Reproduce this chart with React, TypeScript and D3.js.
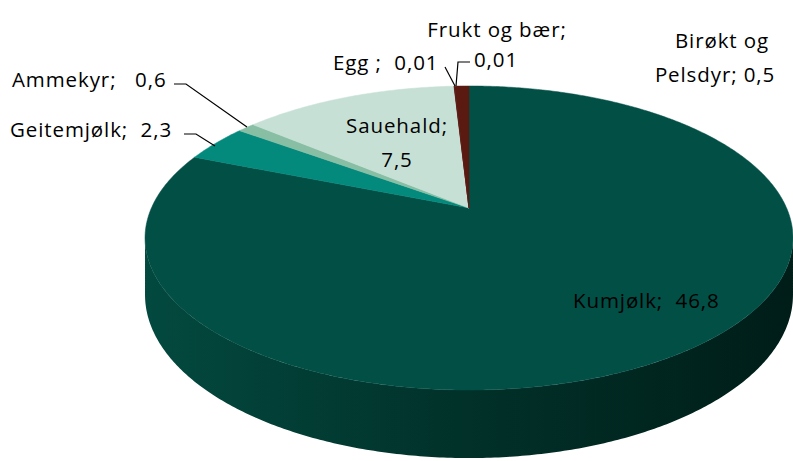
import React from "react";
import * as d3 from "d3";

// data
const categories = [
  "Kumjølk",
  "Geitemjølk",
  "Ammekyr",
  "Sauehald",
  "Egg ",
  "Frukt og bær",
  "Birøkt og Pelsdyr",
];
const values = [46.8, 2.3, 0.6, 7.5, 0.01, 0.01, 0.5];
const valueLabels = ["46,8", "2,3", "0,6", "7,5", "0,01", "0,01", "0,5"];
const topColors = ["#024f46", "#038a7d", "#88bfa4", "#c7e0d6", "#5a1a12", "#5a1a12", "#5a1a12"];

// where the text of each label goes: one entry per line (x, baseline, anchor)
const labelLayout = [
  [{ t: "Kumjølk;  46,8", x: 573, y: 308 }],
  [{ t: "Geitemjølk;  2,3", x: 10, y: 137 }],
  [{ t: "Ammekyr;   0,6", x: 12, y: 87 }],
  [
    { t: "Sauehald;", x: 397, y: 133, mid: true },
    { t: "7,5", x: 397, y: 167, mid: true },
  ],
  [{ t: "Egg ;  0,01", x: 333, y: 70 }],
  [
    { t: "Frukt og bær;", x: 497, y: 37, mid: true },
    { t: "0,01", x: 474, y: 67 },
  ],
  [
    { t: "Birøkt og", x: 722, y: 48, mid: true },
    { t: "Pelsdyr; 0,5", x: 715, y: 82, mid: true },
  ],
];

// leader lines (label side -> slice)
const leaders = [
  { i: 1, pts: [[184, 134], [196, 134], [215, 146]] },
  { i: 2, pts: [[174, 84], [186, 84], [247, 127]] },
  { i: 4, pts: [[445, 67], [455, 86]] },
  { i: 5, pts: [[470, 62], [458, 62], [456, 86]] },
];

// perspective of the tilted disc
const X0 = 469;
const Y0 = 208;
const A = 317.6;
const B = 146.1;
const K = 0.1974;
const H = 54.6;

function proj(theta: number, r: number, bottom = false): [number, number] {
  const x = r * Math.sin(theta);
  const y = r * Math.cos(theta);
  const w = 1 + K * y;
  return [X0 + (A * x) / w, Y0 - (B * y) / w + (bottom ? H / w : 0)];
}

function arcPoints(a0: number, a1: number, bottom = false) {
  const n = Math.max(2, Math.ceil(Math.abs(a1 - a0) / 0.01));
  return d3.range(n + 1).map((j) => proj(a0 + ((a1 - a0) * j) / n, 1, bottom));
}

export default function App() {
  const pie = d3
    .pie<number>()
    .sort(null)
    .startAngle(0)
    .endAngle(2 * Math.PI);
  const arcs = pie(values);
  const line = d3.line();

  // visible front wall: between the two tangent points
  const tA = Math.acos(-K);
  const tB = 2 * Math.PI - tA;
  const wall = [...arcPoints(tA, tB), ...arcPoints(tB, tA, true)];

  const fontFamily = "'Open Sans', Lato, sans-serif";

  return (
    <div>
      <style>{`body{margin:0}`}</style>
      <svg width={793} height={461} style={{ display: "block" }}>
        <defs>
          <linearGradient id="wallGrad" x1={X0 - A * 1.02} x2={X0 + A * 1.02} y1={0} y2={0} gradientUnits="userSpaceOnUse">
            <stop offset="0" stopColor="#03493f" />
            <stop offset="0.45" stopColor="#01332b" />
            <stop offset="1" stopColor="#001d18" />
          </linearGradient>
        </defs>
        <path d={line(wall as [number, number][]) + "Z"} fill="url(#wallGrad)" />
        {arcs.map((a, i) => {
          const pts = [[X0, Y0] as [number, number], ...arcPoints(a.startAngle, a.endAngle)];
          return (
            <path
              key={categories[i]}
              d={line(pts) + "Z"}
              fill={topColors[i]}
              stroke={topColors[i]}
              strokeWidth={0.5}
            />
          );
        })}
        {leaders.map((l) => (
          <path key={l.i} d={line(l.pts as [number, number][]) || ""} fill="none" stroke="#000" strokeWidth={1.2} />
        ))}
        {labelLayout.map((lab, i) => (
          <text
            key={categories[i]}
            fontFamily={fontFamily}
            fontSize={20.5}
            letterSpacing={0.9}
            fill="#000"
            style={{ whiteSpace: "pre" }}
          >
            {lab.map((ln, j) => (
              <tspan key={j} x={ln.x} y={ln.y} textAnchor={ln.mid ? "middle" : "start"}>
                {ln.t}
              </tspan>
            ))}
          </text>
        ))}
      </svg>
    </div>
  );
}
